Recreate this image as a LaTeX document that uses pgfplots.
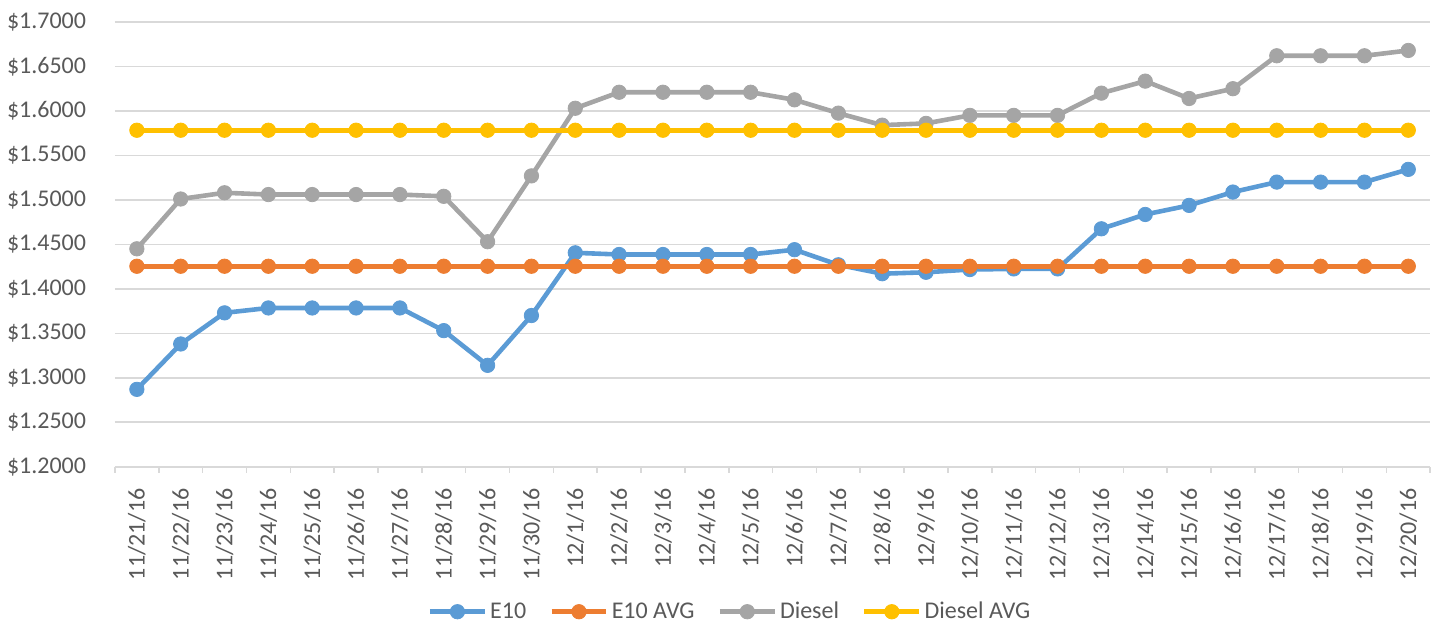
\documentclass[border=0pt]{standalone}
\usepackage{pgfplots}
\usepackage{pgfplotstable}
\usepackage{fontspec}
\setmainfont{Carlito}
\pgfplotsset{compat=1.18}

\definecolor{cE}{HTML}{5B9BD5}
\definecolor{cEavg}{HTML}{ED7D31}
\definecolor{cD}{HTML}{A5A5A5}
\definecolor{cDavg}{HTML}{FFC000}
\definecolor{gridc}{HTML}{D9D9D9}
\definecolor{txt}{HTML}{595959}

% daily prices, x = day index (0 = 11/21/16)
\pgfplotstableread{
x  e10     e10avg  diesel  dieselavg
0  1.2870  1.4254  1.4450  1.5783
1  1.3380  1.4254  1.5010  1.5783
2  1.3730  1.4254  1.5080  1.5783
3  1.3785  1.4254  1.5060  1.5783
4  1.3785  1.4254  1.5060  1.5783
5  1.3785  1.4254  1.5060  1.5783
6  1.3785  1.4254  1.5060  1.5783
7  1.3530  1.4254  1.5040  1.5783
8  1.3140  1.4254  1.4530  1.5783
9  1.3700  1.4254  1.5270  1.5783
10 1.4405  1.4254  1.6030  1.5783
11 1.4386  1.4254  1.6210  1.5783
12 1.4386  1.4254  1.6210  1.5783
13 1.4386  1.4254  1.6210  1.5783
14 1.4386  1.4254  1.6210  1.5783
15 1.4440  1.4254  1.6125  1.5783
16 1.4270  1.4254  1.5975  1.5783
17 1.4170  1.4254  1.5840  1.5783
18 1.4186  1.4254  1.5860  1.5783
19 1.4217  1.4254  1.5950  1.5783
20 1.4224  1.4254  1.5950  1.5783
21 1.4224  1.4254  1.5950  1.5783
22 1.4675  1.4254  1.6200  1.5783
23 1.4836  1.4254  1.6335  1.5783
24 1.4938  1.4254  1.6140  1.5783
25 1.5088  1.4254  1.6250  1.5783
26 1.5200  1.4254  1.6620  1.5783
27 1.5200  1.4254  1.6620  1.5783
28 1.5200  1.4254  1.6620  1.5783
29 1.5343  1.4254  1.6680  1.5783
}\prices

\begin{document}
\begin{tikzpicture}
\begin{axis}[
    scale only axis,
    width=658pt, height=222.5pt,
    xmin=-0.5, xmax=29.5,
    ymin=1.2, ymax=1.7,
    ytick={1.2,1.25,1.3,1.35,1.4,1.45,1.5,1.55,1.6,1.65,1.7},
    yticklabel={\$\pgfmathprintnumber[fixed,fixed zerofill,precision=4]{\tick}},
    /pgf/number format/assume math mode=true,
    xtick={0,...,29},
    xticklabels={11/21/16,11/22/16,11/23/16,11/24/16,11/25/16,11/26/16,11/27/16,11/28/16,11/29/16,11/30/16,
      12/1/16,12/2/16,12/3/16,12/4/16,12/5/16,12/6/16,12/7/16,12/8/16,12/9/16,12/10/16,
      12/11/16,12/12/16,12/13/16,12/14/16,12/15/16,12/16/16,12/17/16,12/18/16,12/19/16,12/20/16},
    minor xtick={-0.5,0.5,...,29.5},
    axis x line*=bottom, axis y line*=left,
    x axis line style={draw=gridc, line width=0.8pt, -},
    y axis line style={draw=none},
    xtick style={draw=none}, ytick style={draw=none},
    minor x tick style={draw=gridc, line width=0.8pt},
    minor tick length=3pt, tick align=outside,
    ymajorgrids, grid style={draw=gridc, line width=0.8pt},
    tick label style={font=\fontsize{12}{14}\selectfont, text=txt},
    yticklabel style={inner sep=0pt, anchor=east, xshift=-10pt},
    xticklabel style={rotate=90, anchor=east, inner sep=0pt},
    xticklabel shift=6.5pt,
    every axis plot/.append style={line width=2.3pt, line join=round, mark=*, mark size=3.6pt},
    legend columns=4,
    legend style={at={(axis description cs:0.468,-0.326)}, anchor=center, draw=none,
      font=\fontsize{12}{14}\selectfont, text=txt,
      nodes={inner xsep=1.5pt},
      /tikz/every odd column/.append style={column sep=0pt},
      /tikz/every even column/.append style={column sep=10pt}},
    legend image code/.code={\draw[mark repeat=2,mark phase=2] plot coordinates {(0pt,0pt)(13.75pt,0pt)(27.5pt,0pt)};},
]
\addplot[color=cE, mark options={fill=cE, draw=cE, line width=0.4pt}] table[x=x, y=e10] {\prices};
\addlegendentry{E10}
\addplot[color=cEavg, mark options={fill=cEavg, draw=cEavg, line width=0.4pt}] table[x=x, y=e10avg] {\prices};
\addlegendentry{E10 AVG}
\addplot[color=cD, mark options={fill=cD, draw=cD, line width=0.4pt}] table[x=x, y=diesel] {\prices};
\addlegendentry{Diesel}
\addplot[color=cDavg, mark options={fill=cDavg, draw=cDavg, line width=0.4pt}] table[x=x, y=dieselavg] {\prices};
\addlegendentry{Diesel AVG}
\end{axis}
% white margins as in the reference
\path (current axis.north west) ++(-57.5pt,11pt) coordinate (tl);
\path (current axis.south east) ++(0,-78.5pt) coordinate (br);
\path (tl) (br);
\end{tikzpicture}
\end{document}
